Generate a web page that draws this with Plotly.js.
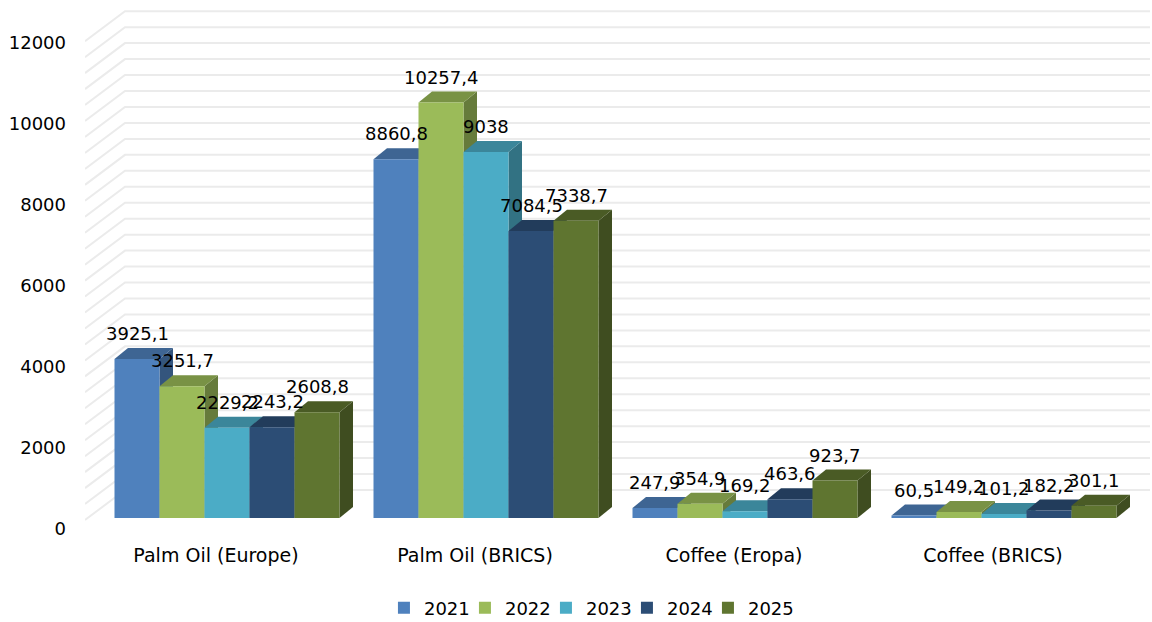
<!DOCTYPE html>
<html>
<head>
<meta charset="utf-8">
<script src="https://cdn.plot.ly/plotly-3.0.1.min.js"></script>
<style>html,body{margin:0;padding:0;background:#fff;}#chart{width:1152px;height:622px;}</style>
</head>
<body>
<div id="chart"></div>
<script>
// ---- data ----
const categories = ["Palm Oil (Europe)", "Palm Oil (BRICS)", "Coffee (Eropa)", "Coffee (BRICS)"];
const years = ["2021", "2022", "2023", "2024", "2025"];
const v2021 = [3925.1, 8860.8, 247.9, 60.5];
const v2022 = [3251.7, 10257.4, 354.9, 149.2];
const v2023 = [2229.2, 9038, 169.2, 101.2];
const v2024 = [2243.2, 7084.5, 463.6, 182.2];
const v2025 = [2608.8, 7338.7, 923.7, 301.1];
const yTicks = [0, 2000, 4000, 6000, 8000, 10000, 12000];

// ---- style ----
const series = [v2021, v2022, v2023, v2024, v2025];
const colors = ["#4F81BD", "#9BBB59", "#4BACC6", "#2C4D75", "#5F7530"];
const FONT = "DejaVu Sans";
const pxPerX = 259;          // pixels per category
const pxPerY = 0.0405;       // pixels per value unit
const barW = 45 / pxPerX;    // bar width in x units
const depthX = 13.5 / pxPerX;
const depthY = 11 / pxPerY;
const xRange = [-142 / pxPerX, -142 / pxPerX + 1065 / pxPerX];
const yRange = [-22 / pxPerY, 510 / pxPerY];

function shade(hex, f) {
  const n = parseInt(hex.slice(1), 16);
  const r = Math.round(((n >> 16) & 255) * f), g = Math.round(((n >> 8) & 255) * f), b = Math.round((n & 255) * f);
  return "rgb(" + r + "," + g + "," + b + ")";
}
function fmt(v) { return String(v).replace(".", ","); }

const traces = years.map((y, j) => ({
  type: "bar", name: y, x: categories.map((c, i) => i), y: series[j],
  marker: {color: colors[j], line: {width: 0}}, hoverinfo: "none"
}));
// invisible spacer entry so the last legend label is not clipped
traces.push({type: "scatter", mode: "markers", x: [null], y: [null], name: " ",
  marker: {color: "rgba(0,0,0,0)", size: 1}, hoverinfo: "none"});

const shapes = [];
// wall gridlines (side wall + back wall), every 400
const wallScale = 0.0399 / pxPerY, wallOff = -2 / pxPerY;
const wallDX = 40 / pxPerX, wallDY = 30 / pxPerY;
for (let v = 0; v <= 12000; v += 400) {
  const yf = v * wallScale + wallOff;
  shapes.push({type: "path", layer: "below", xref: "x", yref: "y",
    path: `M${xRange[0]},${yf} L${xRange[0] + wallDX},${yf + wallDY} L${xRange[1]},${yf + wallDY}`,
    line: {color: "#EBEBEB", width: 2}});
}
// 3D faces
const annotations = [];
categories.forEach((c, i) => {
  years.forEach((yr, j) => {
    const v = series[j][i];
    const xl = i + (j - 2.5) * barW, xr = xl + barW;
    shapes.push({type: "path", layer: "below", xref: "x", yref: "y",
      path: `M${xr},0 L${xr},${v} L${xr + depthX},${v + depthY} L${xr + depthX},${depthY} Z`,
      fillcolor: shade(colors[j], 0.66), line: {width: 0}});
    shapes.push({type: "path", layer: "below", xref: "x", yref: "y",
      path: `M${xl},${v} L${xr},${v} L${xr + depthX},${v + depthY} L${xl + depthX},${v + depthY} Z`,
      fillcolor: shade(colors[j], 0.78), line: {width: 0}});
    annotations.push({x: (xl + xr) / 2, y: v, xref: "x", yref: "y", text: fmt(v),
      showarrow: false, yanchor: "bottom", xanchor: "center", yshift: 13,
      font: {family: FONT, size: 18, color: "#000"}});
  });
});

const layout = {
  width: 1152, height: 622, autosize: false,
  margin: {l: 85, r: 2, t: 8, b: 82, autoexpand: false},
  paper_bgcolor: "#fff", plot_bgcolor: "rgba(0,0,0,0)",
  font: {family: FONT, size: 18, color: "#000"},
  barmode: "group", bargap: 1 - 5 * barW, bargroupgap: 0,
  showlegend: true,
  legend: {orientation: "h", x: 0.2807, xanchor: "left", y: -0.128, yanchor: "middle",
    entrywidth: 36, entrywidthmode: "pixels", bgcolor: "rgba(0,0,0,0)",
    font: {family: FONT, size: 18, color: "#000"}, traceorder: "normal"},
  xaxis: {type: "linear", range: xRange, tickvals: categories.map((c, i) => i), ticktext: categories,
    showgrid: false, zeroline: false, showline: false, ticks: "", ticklabelshift: -11, ticklabelstandoff: 2,
    tickfont: {family: FONT, size: 19, color: "#000"}, fixedrange: true},
  yaxis: {range: yRange, tickvals: yTicks, ticktext: yTicks.map(String),
    showgrid: false, zeroline: false, showline: false, ticks: "", ticklabelshift: 11, ticklabelstandoff: 18,
    tickfont: {family: FONT, size: 18, color: "#000"}, fixedrange: true},
  shapes: shapes, annotations: annotations
};
Plotly.newPlot("chart", traces, layout, {displayModeBar: false, staticPlot: true});
</script>
</body>
</html>
